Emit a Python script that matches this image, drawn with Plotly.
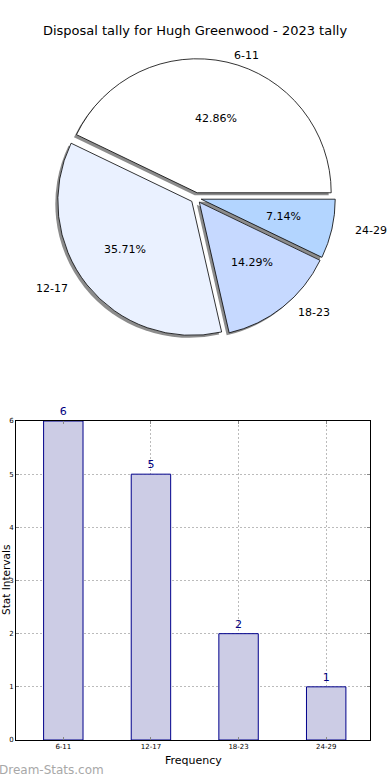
import math
import plotly.graph_objects as go

# ---- data ----
categories = ["6-11", "12-17", "18-23", "24-29"]
counts = [6, 5, 2, 1]
pie_colors = ["#FFFFFF", "#EAF1FF", "#C6D9FF", "#B3D5FF"]
title_text = "Disposal tally for Hugh Greenwood - 2023 tally"
y_ticks = [0, 1, 2, 3, 4, 5, 6]

W, H = 390, 780
FONT = "DejaVu Sans"

total = sum(counts)
# first slice starts at 3 o'clock and runs counterclockwise
# (plotly's counterclockwise pies END the first slice at `rotation`)
rotation = 90 - counts[0] / total * 360

# pie geometry (pixels)
pcx, pcy = 196, 198
R = 134
PULL = 0.04
half = R * (1 + PULL)
# text layout radii (the reference lays its texts out on a slightly wide ellipse)
RX, RY = 141, 128

def dom(cx, cy):
    return dict(x=[(cx - half) / W, (cx + half) / W],
                y=[1 - (cy + half) / H, 1 - (cy - half) / H])

fig = go.Figure()

# shadow pie
fig.add_trace(go.Pie(
    labels=categories, values=counts, sort=False, direction="counterclockwise",
    rotation=rotation, pull=[PULL] * len(counts), textinfo="none", hoverinfo="skip",
    marker=dict(colors=["rgba(0,0,0,0.45)"] * len(counts), line=dict(width=0)),
    domain=dom(pcx - 2.5, pcy + 2.5), showlegend=False))

# main pie
fig.add_trace(go.Pie(
    labels=categories, values=counts, sort=False, direction="counterclockwise",
    rotation=rotation, pull=[PULL] * len(counts), textinfo="none",
    hoverinfo="label+percent",
    marker=dict(colors=pie_colors, line=dict(color="black", width=0.8)),
    domain=dom(pcx, pcy), showlegend=False))

annotations = []
cum = 0
for lab, v in zip(categories, counts):
    frac = v / total
    mid = math.radians((cum + frac / 2) * 360)
    cum += frac
    c, s = math.cos(mid), math.sin(mid)
    d = PULL + 1.1
    annotations.append(dict(
        x=(pcx + d * RX * c) / W, y=1 - (pcy - d * RY * s) / H,
        xref="paper", yref="paper",
        text=lab, showarrow=False, xanchor="left" if c > 0 else "right", yanchor="middle",
        font=dict(family=FONT, size=11, color="black")))
    d2 = PULL + 0.6
    annotations.append(dict(
        x=(pcx + d2 * RX * c) / W, y=1 - (pcy - d2 * RY * s) / H,
        xref="paper", yref="paper",
        text=f"{frac * 100:.2f}%", showarrow=False, xanchor="center", yanchor="middle",
        font=dict(family=FONT, size=11, color="black")))

# bar chart
fig.add_trace(go.Bar(
    x=categories, y=counts, width=0.45, text=[str(v) for v in counts],
    textposition="outside", cliponaxis=False,
    textfont=dict(family=FONT, size=11, color="#000080"),
    marker=dict(color="#CCCCE5", line=dict(color="#00008B", width=1)),
    xaxis="x", yaxis="y", showlegend=False))

annotations.append(dict(
    x=6 / W, y=1 - 580 / H, xref="paper", yref="paper", text="Stat Intervals",
    textangle=-90, showarrow=False, xanchor="center", yanchor="middle",
    font=dict(family=FONT, size=10.5, color="black")))
annotations.append(dict(
    x=193 / W, y=1 - 760 / H, xref="paper", yref="paper", text="Frequency",
    showarrow=False, xanchor="center", yanchor="middle",
    font=dict(family=FONT, size=11, color="black")))
annotations.append(dict(
    x=-3 / W, y=1 - 770 / H, xref="paper", yref="paper", text="Dream-Stats.com",
    showarrow=False, xanchor="left", yanchor="middle",
    font=dict(family=FONT, size=12, color="#A8A8A8")))

grid = dict(showgrid=True, gridcolor="#BBBBBB", griddash="2px,2px", gridwidth=1)

fig.update_layout(
    width=W, height=H, margin=dict(l=0, r=0, t=0, b=0),
    paper_bgcolor="white", plot_bgcolor="white",
    title=dict(text=title_text, x=0.5, xanchor="center", y=1 - 30 / H, yanchor="middle",
               font=dict(family=FONT, size=13, color="black")),
    font=dict(family=FONT),
    annotations=annotations,
    xaxis=dict(domain=[16 / W, 370 / W], range=[-0.54, 3.5], type="category",
               automargin=False,
               showline=True, linecolor="black", linewidth=1, mirror="ticks",
               ticks="inside", ticklen=3, tickcolor="#888",
               tickfont=dict(family=FONT, size=7, color="black"), **grid),
    yaxis=dict(domain=[1 - 740 / H, 1 - 421 / H], range=[0, 6], tickvals=y_ticks,
               automargin=False,
               showline=True, linecolor="black", linewidth=1, mirror="ticks",
               ticks="inside", ticklen=3, tickcolor="#888",
               zeroline=False,
               tickfont=dict(family=FONT, size=7, color="black"), **grid),
)

fig.write_html("out.html",
               config={"displayModeBar": False},
               post_script="document.body.style.margin='0';document.body.style.overflow='hidden';")
